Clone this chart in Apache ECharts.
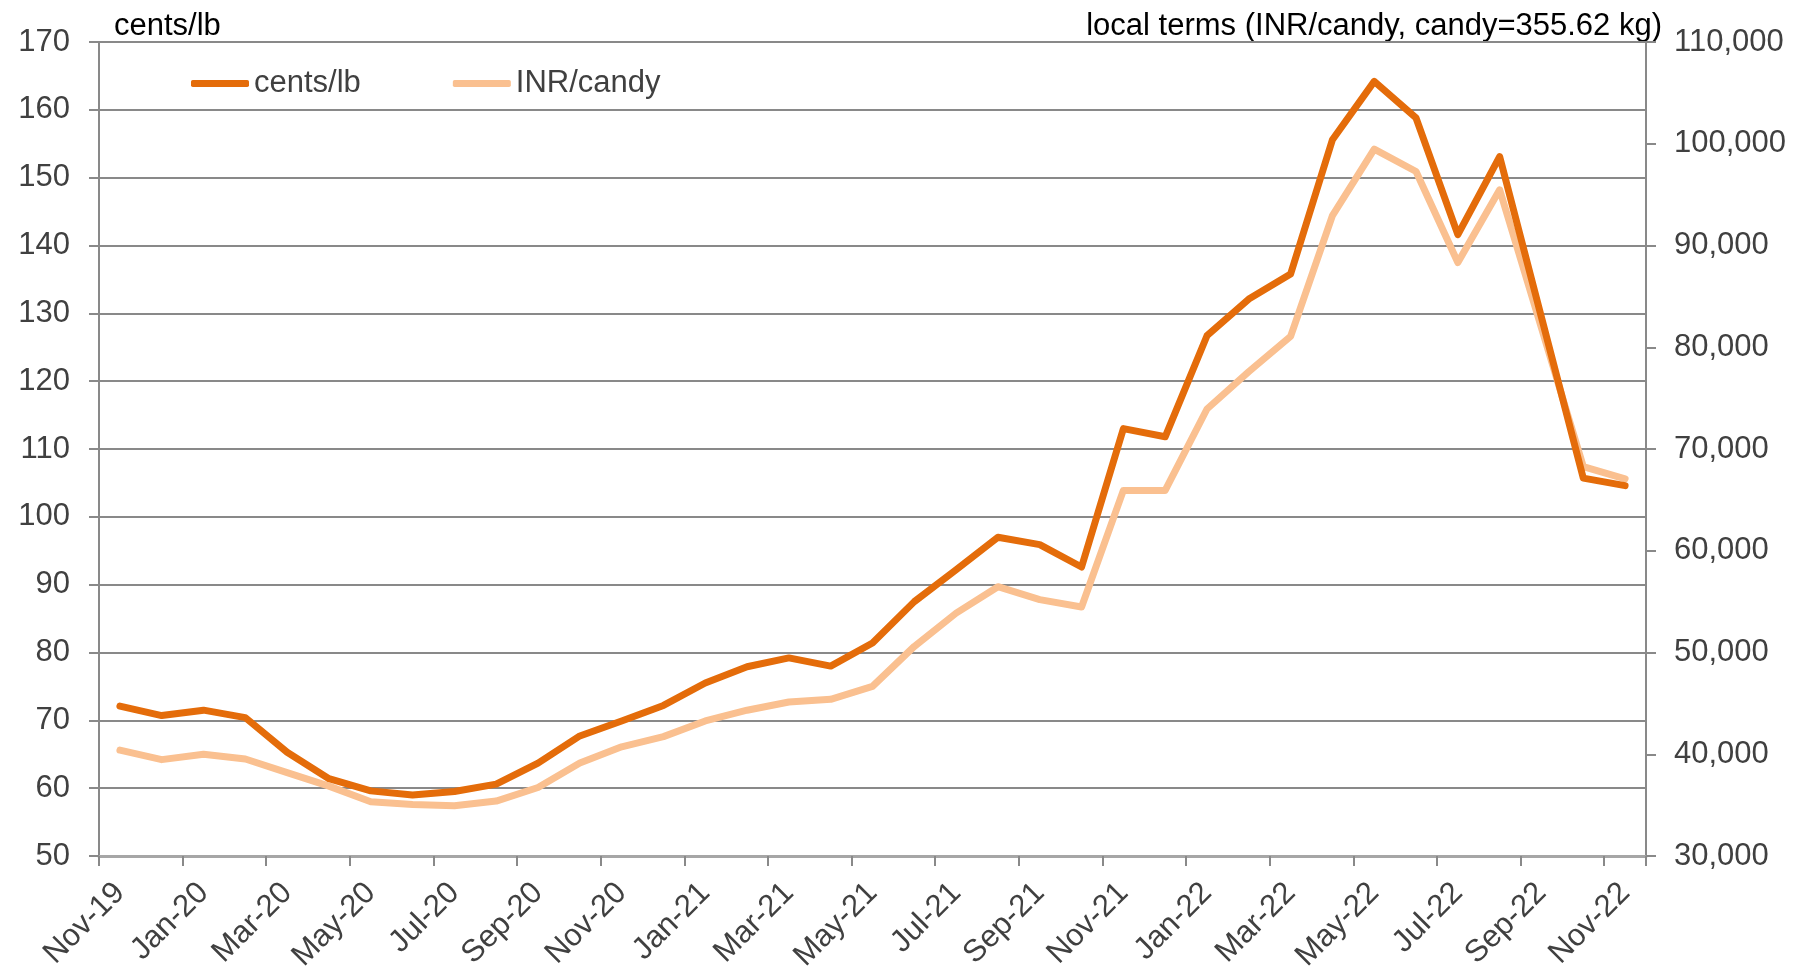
<!DOCTYPE html>
<html>
<head>
<meta charset="utf-8">
<script src="https://cdn.jsdelivr.net/npm/echarts@6/dist/echarts.min.js"></script>
<style>
  html, body { margin: 0; padding: 0; background: #fff; }
  #chart { width: 1799px; height: 978px; }
</style>
</head>
<body>
<div id="chart"></div>
<script>
// months on the x axis
const months = [
  'Nov-19', 'Dec-19', 'Jan-20', 'Feb-20', 'Mar-20', 'Apr-20', 'May-20', 'Jun-20', 'Jul-20', 'Aug-20',
  'Sep-20', 'Oct-20', 'Nov-20', 'Dec-20', 'Jan-21', 'Feb-21', 'Mar-21', 'Apr-21', 'May-21', 'Jun-21',
  'Jul-21', 'Aug-21', 'Sep-21', 'Oct-21', 'Nov-21', 'Dec-21', 'Jan-22', 'Feb-22', 'Mar-22', 'Apr-22',
  'May-22', 'Jun-22', 'Jul-22', 'Aug-22', 'Sep-22', 'Oct-22', 'Nov-22'
]

// cents/lb (left axis)
const centsPerLb = [
  72.1, 70.7, 71.5, 70.4, 65.3, 61.4, 59.6, 59.0, 59.5, 60.6,
  63.7, 67.7, 69.9, 72.2, 75.5, 77.9, 79.2, 78.0, 81.4, 87.5,
  92.2, 97.0, 95.9, 92.6, 113.0, 111.8, 126.7, 132.1, 135.8, 155.6,
  164.2, 158.8, 141.6, 153.1, 129.4, 105.7, 104.6
]

// INR/candy (right axis)
const inrPerCandy = [
  40400, 39470, 40000, 39530, 38200, 36870, 35330, 35070, 34930, 35400,
  36730, 39130, 40730, 41730, 43270, 44330, 45130, 45400, 46670, 50600,
  53870, 56470, 55200, 54470, 65930, 65930, 73930, 77600, 81070, 92930,
  99470, 97270, 88330, 95470, 81900, 68270, 67070
]

const leftTicks = { min: 50, max: 170, interval: 10 }
const rightTicks = { min: 30000, max: 110000, interval: 10000 }

const axisGray = '#898989'
const labelGray = '#404040'
const font = '"Liberation Sans", Arial, sans-serif'

const chart = echarts.init(document.getElementById('chart'))

const option = {
  backgroundColor: '#fff',
  animation: false,
  textStyle: { fontFamily: font },
  grid: {
    left: 99,
    right: 153,
    top: 42,
    bottom: 122,
  },
  legend: {
    left: 186,
    top: 63,
    icon: 'roundRect',
    itemWidth: 58,
    itemHeight: 7,
    itemGap: 92,
    textStyle: { fontSize: 31, color: labelGray, fontFamily: font },
    data: ['cents/lb', 'INR/candy'],
  },
  graphic: [
    {
      type: 'text',
      left: 114,
      top: 11,
      style: { text: 'cents/lb', font: '31px ' + font, fill: '#000' },
    },
    {
      type: 'text',
      right: 137,
      top: 11,
      style: { text: 'local terms (INR/candy, candy=355.62 kg)', font: '31px ' + font, fill: '#000' },
    },
  ],
  xAxis: {
    type: 'category',
    data: months,
    boundaryGap: true,
    axisLine: { lineStyle: { color: '#a6a6a6', width: 3 } },
    axisTick: { show: true, length: 10, lineStyle: { color: axisGray, width: 2 } },
    axisLabel: {
      interval: 1,
      rotate: 45,
      margin: 32,
      fontSize: 31,
      color: labelGray,
      fontFamily: font,
    },
  },
  yAxis: [
    {
      type: 'value',
      position: 'left',
      min: leftTicks.min,
      max: leftTicks.max,
      interval: leftTicks.interval,
      axisLine: { show: true, lineStyle: { color: axisGray, width: 2 } },
      axisTick: { show: true, length: 10, lineStyle: { color: axisGray, width: 2 } },
      axisLabel: { fontSize: 31, color: labelGray, margin: 29, fontFamily: font },
      splitLine: { show: true, lineStyle: { color: axisGray, width: 2 } },
    },
    {
      type: 'value',
      position: 'right',
      min: rightTicks.min,
      max: rightTicks.max,
      interval: rightTicks.interval,
      axisLine: { show: true, lineStyle: { color: axisGray, width: 2 } },
      axisTick: { show: true, length: 10, lineStyle: { color: axisGray, width: 2 } },
      axisLabel: {
        fontSize: 31,
        color: labelGray,
        margin: 28,
        fontFamily: font,
        formatter: (v) => v.toLocaleString('en-US'),
      },
      splitLine: { show: false },
    },
  ],
  series: [
    {
      name: 'cents/lb',
      type: 'line',
      yAxisIndex: 0,
      data: centsPerLb,
      showSymbol: false,
      symbol: 'none',
      z: 3,
      lineStyle: { color: '#E46C0A', width: 7, cap: 'round', join: 'round' },
      itemStyle: { color: '#E46C0A' },
    },
    {
      name: 'INR/candy',
      type: 'line',
      yAxisIndex: 1,
      data: inrPerCandy,
      showSymbol: false,
      symbol: 'none',
      z: 2,
      lineStyle: { color: '#FAC090', width: 7, cap: 'round', join: 'round' },
      itemStyle: { color: '#FAC090' },
    },
  ],
}

chart.setOption(option)
</script>
</body>
</html>
